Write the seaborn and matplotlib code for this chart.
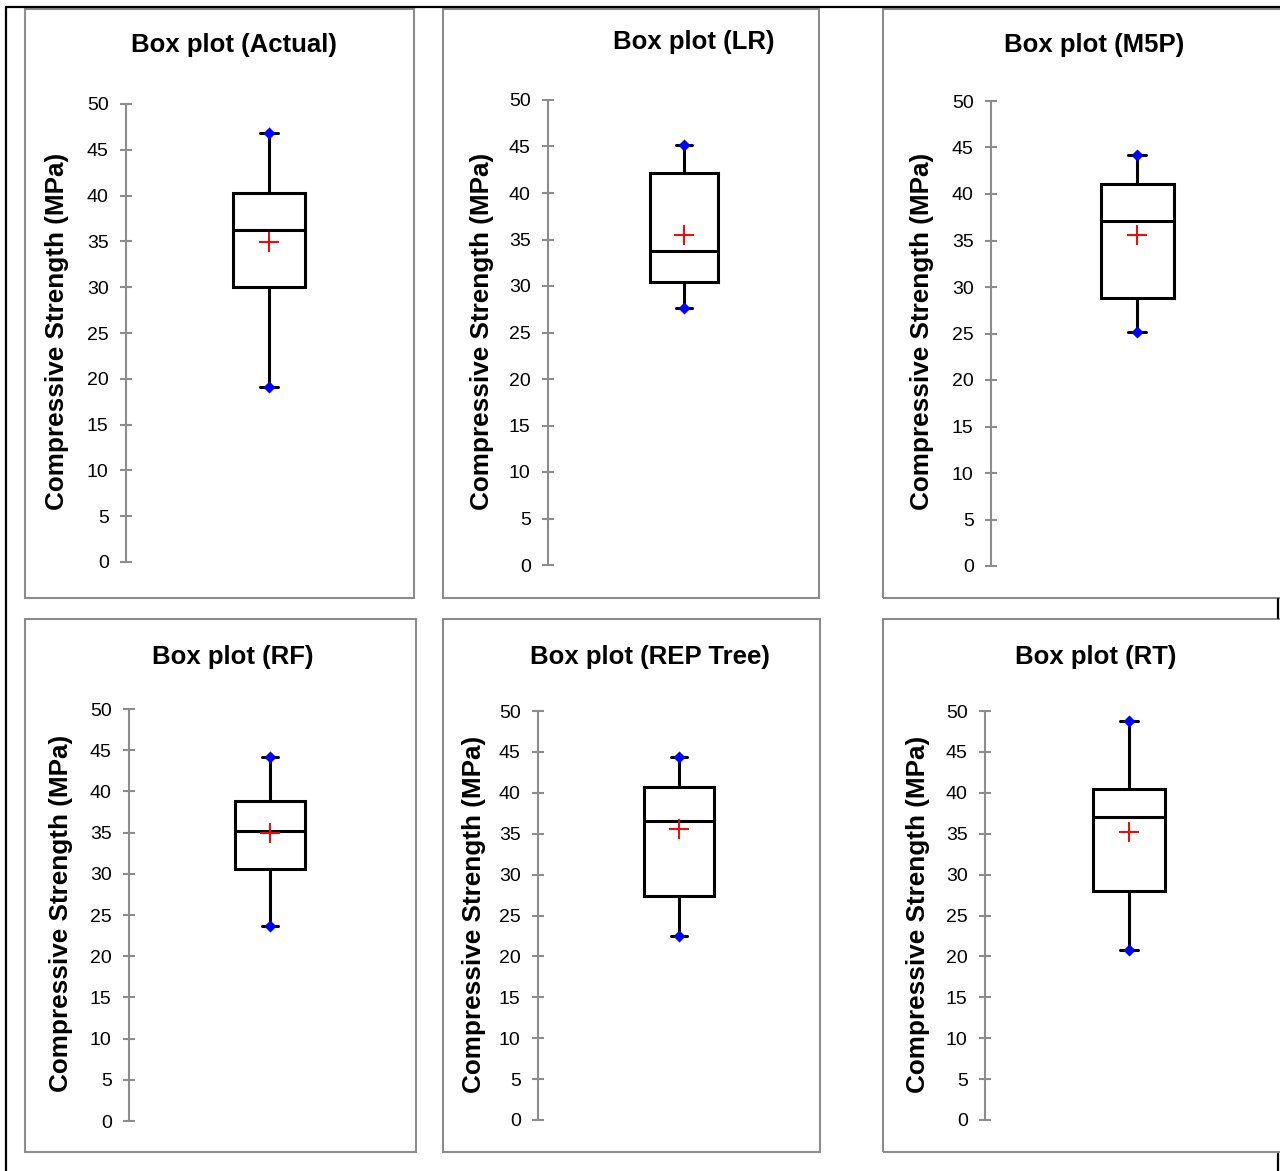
import numpy as np
import pandas as pd
import matplotlib
matplotlib.use("Agg")
import matplotlib.pyplot as plt
from matplotlib.patches import Rectangle
from matplotlib.lines import Line2D
import seaborn as sns

# ---------------------------------------------------------------
# data (MPa)
# ---------------------------------------------------------------
models = ["Actual", "LR", "M5P", "RF", "REP Tree", "RT"]
mins = [19.1, 27.6, 25.2, 23.7, 22.5, 20.8]
q1s = [30.0, 30.4, 28.8, 30.6, 27.4, 28.0]
medians = [36.2, 33.8, 37.1, 35.2, 36.6, 37.0]
q3s = [40.3, 42.2, 41.1, 38.8, 40.7, 40.5]
maxs = [46.8, 45.2, 44.2, 44.2, 44.4, 48.8]
means = [34.9, 35.5, 35.6, 34.9, 35.6, 35.2]
y_ticks = list(range(0, 51, 5))

# ---------------------------------------------------------------
# style
# ---------------------------------------------------------------
sns.set_style("ticks")
plt.rcParams['font.family'] = ['Liberation Sans', 'DejaVu Sans']
plt.rcParams['text.color'] = 'black'
plt.rcParams['ytick.labelcolor'] = 'black'

W, H = 1280, 1171
fig = plt.figure(figsize=(W / 100, H / 100), dpi=100)


def fx(x):
    return x / W


def fy(y):
    return 1 - y / H


# layout in pixels: panel frame, axes box, title centre, ylabel centre
layout = [
    dict(frame=(25, 9, 414, 598), ax=(126, 104, 412, 562), title=(234, 45), ylab=(57, 331)),
    dict(frame=(443, 9, 819, 598), ax=(548, 100, 820, 565), title=(694, 42), ylab=(482, 331)),
    dict(frame=(883, 9, 1300, 598), ax=(991, 101, 1283, 566), title=(1094, 45), ylab=(922, 331)),
    dict(frame=(25, 619, 416, 1152), ax=(129, 709, 411, 1121), title=(233, 657), ylab=(61, 913)),
    dict(frame=(443, 619, 820, 1152), ax=(538, 711, 820, 1120), title=(650, 657), ylab=(474, 914)),
    dict(frame=(883, 619, 1300, 1152), ax=(985, 711, 1273, 1120), title=(1096, 657), ylab=(918, 914)),
]

grey = "#8c8c8c"

for i, name in enumerate(models):
    lay = layout[i]
    x0, y0, x1, y1 = lay["frame"]
    fig.add_artist(Rectangle((fx(x0), fy(y1)), (x1 - x0) / W, (y1 - y0) / H,
                             transform=fig.transFigure, fill=False,
                             edgecolor=grey, linewidth=1.5))

    l, t, r, b = lay["ax"]
    ax = fig.add_axes([fx(l), fy(b), (r - l) / W, (b - t) / H])
    ax.patch.set_alpha(0)

    df = pd.DataFrame({"v": [mins[i], q1s[i], medians[i], q3s[i], maxs[i]]})
    sns.boxplot(data=df, y="v", ax=ax, width=0.25, whis=(0, 100),
                color="white", linecolor="black", linewidth=2.2,
                saturation=1, showfliers=False, capwidths=0.06)
    ext = pd.DataFrame({"x": [0, 0], "y": [mins[i], maxs[i]]})
    sns.scatterplot(data=ext, x="x", y="y", ax=ax, marker="D", s=38,
                    color="#0000ff", edgecolor="#0000ff", linewidth=0, zorder=5)
    mn = pd.DataFrame({"x": [0], "y": [means[i]]})
    sns.scatterplot(data=mn, x="x", y="y", ax=ax, marker="+", s=190,
                    color="red", linewidth=1.4, zorder=6)

    ax.set_xlim(-0.5, 0.5)
    ax.set_ylim(0, 50)
    ax.set_yticks(y_ticks)
    ax.set_yticklabels([str(v) for v in y_ticks], fontsize=14)
    ax.tick_params(axis="y", direction="inout", length=9, width=1.5,
                   color=grey, pad=8, labelcolor="black")
    ax.xaxis.set_visible(False)
    ax.set_ylabel("")
    for s in ["top", "right", "bottom"]:
        ax.spines[s].set_visible(False)
    ax.spines["left"].set_color(grey)
    ax.spines["left"].set_linewidth(1.5)

    tx, ty = lay["title"]
    fig.text(fx(tx), fy(ty), f"Box plot ({name})", ha="center", va="center",
             fontsize=18.5, fontweight="bold", color="black")
    lx, ly = lay["ylab"]
    fig.text(fx(lx), fy(ly), "Compressive Strength (MPa)", ha="center",
             va="center", rotation=90, fontsize=18.8, fontweight="bold",
             color="black")

# outer table lines
for xs, ys in [((6, 1280), (7, 7)), ((6, 6), (7, 1171)),
               ((1278, 1278), (599, 618)), ((1278, 1278), (1154, 1171))]:
    fig.add_artist(Line2D([fx(xs[0]), fx(xs[1])], [fy(ys[0]), fy(ys[1])],
                          transform=fig.transFigure, color="black", linewidth=1.6))

fig.savefig("out.png", dpi=100)
